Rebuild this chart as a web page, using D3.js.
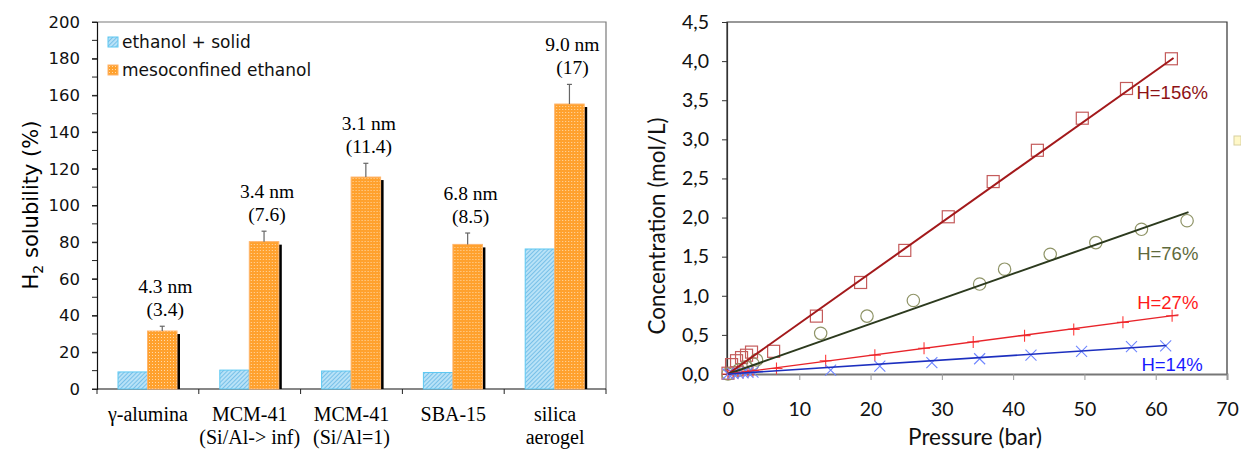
<!DOCTYPE html>
<html>
<head>
<meta charset="utf-8">
<script src="https://cdn.jsdelivr.net/npm/d3@7"></script>
<style>
  body { margin: 0; background: #fff; }
  svg { display: block; }
</style>
</head>
<body>
<svg id="chart" width="1241" height="450"></svg>
<script>
// ---- left chart data
var materials = [["γ-alumina"], ["MCM-41", "(Si/Al-> inf)"], ["MCM-41", "(Si/Al=1)"], ["SBA-15"], ["silica", "aerogel"]];
var solidValues = [9.3, 10.3, 9.8, 9.0, 76.3];
var mesoValues = [31.6, 80.3, 115.5, 78.8, 155.3];
var mesoErrors = [2.6, 5.7, 7.5, 6.2, 10.7];
var poreSizes = ["4.3 nm", "3.4 nm", "3.1 nm", "6.8 nm", "9.0 nm"];
var poreRatios = ["(3.4)", "(7.6)", "(11.4)", "(8.5)", "(17)"];
var legendLabels = ["ethanol + solid", "mesoconfined ethanol"];
var leftTicks = [0, 20, 40, 60, 80, 100, 120, 140, 160, 180, 200];

// ---- right chart data (pressure bar, concentration mol/L)
var squarePts = [[0, 0.01], [0.5, 0.12], [1.2, 0.17], [1.9, 0.21], [2.6, 0.24], [3.3, 0.28], [6.4, 0.29], [12.4, 0.74], [18.6, 1.17], [24.8, 1.58], [30.9, 2.01], [37.2, 2.46], [43.4, 2.86], [49.7, 3.27], [55.9, 3.65], [62.2, 4.03]];
var circlePts = [[0, 0.0], [1.5, 0.05], [2.5, 0.09], [3.5, 0.13], [4.0, 0.18], [13.0, 0.52], [19.5, 0.74], [26.0, 0.94], [35.3, 1.15], [38.8, 1.34], [45.2, 1.53], [51.6, 1.68], [58.0, 1.85], [64.4, 1.96]];
var plusPts = [[0, 0], [0.7, 0.01], [1.4, 0.02], [2.1, 0.02], [2.8, 0.03], [3.5, 0.04], [6.8, 0.07], [13.7, 0.17], [20.6, 0.24], [27.5, 0.33], [34.4, 0.41], [41.6, 0.49], [48.5, 0.57], [55.4, 0.66], [62.3, 0.745]];
var crossPts = [[0, 0], [0.7, 0.005], [1.4, 0.01], [2.1, 0.015], [2.8, 0.02], [3.5, 0.025], [14.4, 0.05], [21.3, 0.10], [28.6, 0.145], [35.3, 0.195], [42.5, 0.24], [49.6, 0.29], [56.6, 0.35], [61.4, 0.36]];
var fit156 = [[0, 0], [62.5, 4.04]];
var fit76 = [[0, 0], [64.6, 2.07]];
var fit27 = [[0, 0], [63.2, 0.755]];
var fit14 = [[0, 0], [61.5, 0.365]];
var fitLabels = ["H=156%", "H=76%", "H=27%", "H=14%"];
var fitLabelPos = [[57.3, 3.6], [57.4, 1.54], [57.4, 0.92], [58.0, 0.12]];
var xTicksR = [0, 10, 20, 30, 40, 50, 60, 70];
var yTicksR = [0, 0.5, 1, 1.5, 2, 2.5, 3, 3.5, 4, 4.5];

var svg = d3.select("#chart");
var defs = svg.append("defs");

// patterns
var hatch = defs.append("pattern").attr("id", "hatch").attr("patternUnits", "userSpaceOnUse")
  .attr("width", 3).attr("height", 3).attr("patternTransform", "rotate(45)");
hatch.append("rect").attr("width", 3).attr("height", 3).attr("fill", "#b8e2f7");
hatch.append("rect").attr("width", 1).attr("height", 3).attr("fill", "#78c0e8");

var dots = defs.append("pattern").attr("id", "dots").attr("patternUnits", "userSpaceOnUse")
  .attr("width", 3).attr("height", 3);
dots.append("rect").attr("width", 3).attr("height", 3).attr("fill", "#ffa12e");
dots.append("rect").attr("x", 1).attr("y", 1).attr("width", 1).attr("height", 1).attr("fill", "#ffd9a8");

// ================= LEFT CHART
var L = { left: 97, right: 606, top: 22, bottom: 389 };
var x0 = d3.scaleBand().domain(d3.range(materials.length)).range([L.left, L.right]);
var x1 = d3.scaleBand().domain([0, 1]).range([21, 80]);
var yL = d3.scaleLinear().domain([0, 200]).range([L.bottom, L.top]);
var verdana = "'DejaVu Sans', Verdana, sans-serif";

var gl = svg.append("g");

// frame top/right
gl.append("path").attr("d", "M" + L.left + "," + L.top + "H" + L.right + "V" + L.bottom)
  .attr("fill", "none").attr("stroke", "#7a7a7a").attr("stroke-width", 1.2);

// minor ticks
gl.append("g").selectAll("line").data(d3.range(0, 201, 10)).enter().append("line")
  .attr("x1", L.left - 5).attr("x2", L.left)
  .attr("y1", function (d) { return yL(d); }).attr("y2", function (d) { return yL(d); })
  .attr("stroke", "#222").attr("stroke-width", 1);

var yAxisL = gl.append("g").attr("transform", "translate(" + L.left + ",0)")
  .call(d3.axisLeft(yL).tickValues(leftTicks).tickSize(5).tickPadding(12));
yAxisL.selectAll("text").style("font-family", verdana).style("font-size", "16.5px").attr("fill", "#111");
yAxisL.select(".domain").attr("stroke", "#111").attr("stroke-width", 1.2);
yAxisL.selectAll(".tick line").attr("stroke", "#222");

// x axis line + ticks at category borders
gl.append("line").attr("x1", L.left).attr("x2", L.right).attr("y1", L.bottom).attr("y2", L.bottom)
  .attr("stroke", "#111").attr("stroke-width", 1.2);
gl.append("g").selectAll("line").data(d3.range(materials.length + 1)).enter().append("line")
  .attr("x1", function (d) { return L.left + d * x0.bandwidth(); })
  .attr("x2", function (d) { return L.left + d * x0.bandwidth(); })
  .attr("y1", L.bottom).attr("y2", L.bottom + 5)
  .attr("stroke", "#222");

// bars
var groups = gl.append("g").selectAll("g").data(materials).enter().append("g")
  .attr("transform", function (d, i) { return "translate(" + x0(i) + ",0)"; });

groups.append("rect")
  .attr("x", x1(0)).attr("width", x1.bandwidth())
  .attr("y", function (d, i) { return yL(solidValues[i]); })
  .attr("height", function (d, i) { return L.bottom - yL(solidValues[i]); })
  .attr("fill", "url(#hatch)").attr("stroke", "#5cc8f2").attr("stroke-width", 1);

// black shadow
groups.append("rect")
  .attr("x", x1(1) + x1.bandwidth()).attr("width", 3)
  .attr("y", function (d, i) { return yL(mesoValues[i]) + 3; })
  .attr("height", function (d, i) { return L.bottom - yL(mesoValues[i]) - 3; })
  .attr("fill", "#000");

groups.append("rect")
  .attr("x", x1(1)).attr("width", x1.bandwidth())
  .attr("y", function (d, i) { return yL(mesoValues[i]); })
  .attr("height", function (d, i) { return L.bottom - yL(mesoValues[i]); })
  .attr("fill", "url(#dots)").attr("stroke", "#ffb46a").attr("stroke-width", 1);

// error bars
var cxm = x1(1) + x1.bandwidth() / 2;
groups.append("line").attr("x1", cxm).attr("x2", cxm)
  .attr("y1", function (d, i) { return yL(mesoValues[i]); })
  .attr("y2", function (d, i) { return yL(mesoValues[i] + mesoErrors[i]); })
  .attr("stroke", "#666").attr("stroke-width", 1.2);
groups.append("line").attr("x1", cxm - 2.5).attr("x2", cxm + 2.5)
  .attr("y1", function (d, i) { return yL(mesoValues[i] + mesoErrors[i]); })
  .attr("y2", function (d, i) { return yL(mesoValues[i] + mesoErrors[i]); })
  .attr("stroke", "#666").attr("stroke-width", 1.2);

// pore annotations
var serif = "'Liberation Serif', 'Times New Roman', serif";
groups.append("text").attr("x", cxm + 3)
  .attr("y", function (d, i) { return yL(mesoValues[i] + mesoErrors[i]) - 33; })
  .attr("text-anchor", "middle").style("font-family", serif).style("font-size", "19.5px")
  .text(function (d, i) { return poreSizes[i]; });
groups.append("text").attr("x", cxm + 3)
  .attr("y", function (d, i) { return yL(mesoValues[i] + mesoErrors[i]) - 10; })
  .attr("text-anchor", "middle").style("font-family", serif).style("font-size", "19.5px")
  .text(function (d, i) { return poreRatios[i]; });

// category labels
groups.append("text").attr("x", x0.bandwidth() / 2).attr("y", 421)
  .attr("text-anchor", "middle").style("font-family", serif).style("font-size", "20px")
  .selectAll("tspan").data(function (d) { return d; }).enter().append("tspan")
  .attr("x", x0.bandwidth() / 2).attr("dy", function (d, j) { return j === 0 ? 0 : 23; })
  .text(function (d) { return d; });

// y title
gl.append("text").attr("transform", "translate(38,205) rotate(-90)")
  .attr("text-anchor", "middle").style("font-family", verdana).style("font-size", "21px")
  .call(function (t) {
    t.append("tspan").text("H");
    t.append("tspan").attr("font-size", "14px").attr("dy", 5).text("2");
    t.append("tspan").attr("dy", -5).text(" solubility (%)");
  });

// legend
var legFills = ["url(#hatch)", "url(#dots)"];
var legStrokes = ["#5cc8f2", "#ffb46a"];
var leg = gl.append("g").selectAll("g").data(legendLabels).enter().append("g")
  .attr("transform", function (d, i) { return "translate(108," + (37 + i * 28) + ")"; });
leg.append("rect").attr("width", 10).attr("height", 10)
  .attr("fill", function (d, i) { return legFills[i]; })
  .attr("stroke", function (d, i) { return legStrokes[i]; });
leg.append("text").attr("x", 14).attr("y", 5).attr("dy", "0.35em")
  .style("font-family", verdana).style("font-size", "17px").attr("fill", "#111")
  .text(function (d) { return d; });

// ================= RIGHT CHART
var R = { left: 727, right: 1227, top: 22, bottom: 374 };
var xR = d3.scaleLinear().domain([0, 70]).range([R.left + 1, R.right]);
var yR = d3.scaleLinear().domain([0, 4.5]).range([R.bottom, R.top]);
var sans = "Lato, 'Open Sans', sans-serif";
var comma = function (d) { return d3.format(".1f")(d).replace(".", ","); };

var gr = svg.append("g");
gr.append("path").attr("d", "M" + R.left + "," + R.bottom + "V" + R.top + "H" + R.right + "V" + R.bottom)
  .attr("fill", "none").attr("stroke", "#333").attr("stroke-width", 1.2);

var xAxisR = gr.append("g").attr("transform", "translate(0," + R.bottom + ")")
  .call(d3.axisBottom(xR).tickValues(xTicksR).tickSize(6).tickPadding(22).tickFormat(d3.format("d")));
xAxisR.select(".domain").attr("stroke", "#777").attr("stroke-width", 1.8);
xAxisR.selectAll(".tick line").attr("stroke", "#999");
xAxisR.selectAll("text").style("font-family", sans).style("font-size", "19.5px").attr("fill", "#111");

var yAxisR = gr.append("g").attr("transform", "translate(" + R.left + ",0)")
  .call(d3.axisLeft(yR).tickValues(yTicksR).tickSize(5).tickPadding(13).tickFormat(comma));
yAxisR.select(".domain").attr("stroke", "#333").attr("stroke-width", 1.2);
yAxisR.selectAll(".tick line").attr("stroke", "#333");
yAxisR.selectAll("text").style("font-family", sans).style("font-size", "19.5px").attr("fill", "#111");

gr.append("text").attr("x", 975).attr("y", 445).attr("text-anchor", "middle")
  .style("font-family", sans).style("font-size", "22.5px").attr("fill", "#111").text("Pressure (bar)");
gr.append("text").attr("transform", "translate(665,226) rotate(-90)").attr("text-anchor", "middle")
  .style("font-family", sans).style("font-size", "22.5px").attr("fill", "#111").text("Concentration (mol/L)");

// markers
var mk = gr.append("g");
mk.selectAll("rect.sq").data(squarePts).enter().append("rect").attr("class", "sq")
  .attr("x", function (d) { return xR(d[0]) - 6; }).attr("y", function (d) { return yR(d[1]) - 6; })
  .attr("width", 12).attr("height", 12)
  .attr("fill", "none").attr("stroke", "#c45b5b").attr("stroke-width", 1.2);
mk.selectAll("circle").data(circlePts).enter().append("circle")
  .attr("cx", function (d) { return xR(d[0]); }).attr("cy", function (d) { return yR(d[1]); })
  .attr("r", 6.2).attr("fill", "none").attr("stroke", "#8f9467").attr("stroke-width", 1.2);
mk.selectAll("path.plus").data(plusPts).enter().append("path").attr("class", "plus")
  .attr("d", function (d) {
    var x = xR(d[0]), y = yR(d[1]);
    return "M" + (x - 6) + "," + y + "H" + (x + 6) + "M" + x + "," + (y - 6) + "V" + (y + 6);
  })
  .attr("stroke", "#ff3a3a").attr("stroke-width", 1.1).attr("fill", "none");
mk.selectAll("path.cross").data(crossPts).enter().append("path").attr("class", "cross")
  .attr("d", function (d) {
    var x = xR(d[0]), y = yR(d[1]);
    return "M" + (x - 5.5) + "," + (y - 5.5) + "L" + (x + 5.5) + "," + (y + 5.5) +
      "M" + (x - 5.5) + "," + (y + 5.5) + "L" + (x + 5.5) + "," + (y - 5.5);
  })
  .attr("stroke", "#6f86ff").attr("stroke-width", 1.1).attr("fill", "none");

// fit lines
var line = d3.line().x(function (d) { return xR(d[0]); }).y(function (d) { return yR(d[1]); });
var fits = [fit156, fit76, fit27, fit14];
var fitColors = ["#a3191b", "#2c3a1e", "#e8242a", "#1c2fbf"];
var fitWidths = [2, 2, 1.3, 1.6];
var labelColors = ["#8e1214", "#5f6a3c", "#ff1a1a", "#1a1aff"];
gr.append("g").selectAll("path").data(fits).enter().append("path")
  .attr("d", line).attr("fill", "none")
  .attr("stroke", function (d, i) { return fitColors[i]; })
  .attr("stroke-width", function (d, i) { return fitWidths[i]; });

gr.append("g").selectAll("text").data(fitLabels).enter().append("text")
  .attr("x", function (d, i) { return xR(fitLabelPos[i][0]); })
  .attr("y", function (d, i) { return yR(fitLabelPos[i][1]); })
  .attr("dy", "0.35em")
  .style("font-family", "'Liberation Sans', Arial, sans-serif").style("font-size", "18.5px")
  .attr("fill", function (d, i) { return labelColors[i]; })
  .text(function (d) { return d; });

// small comment marker at the right edge
svg.append("rect").attr("x", 1234).attr("y", 136).attr("width", 7).attr("height", 9)
  .attr("fill", "#fff8c8").attr("stroke", "#d8d0a0");
</script>
</body>
</html>
